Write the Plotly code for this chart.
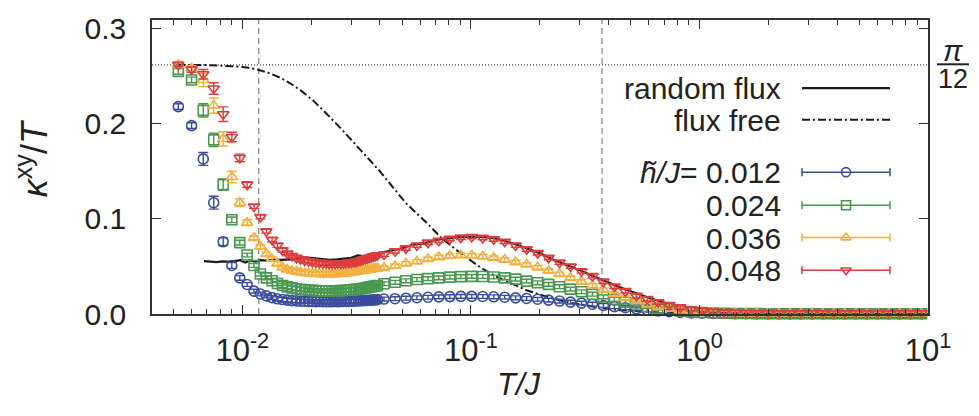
import math
import plotly.graph_objects as go

# ---------------- data ----------------
T = [0.00525, 0.006, 0.00675, 0.0075, 0.00825, 0.009, 0.00975, 0.0105, 0.01125, 0.012,
     0.01275, 0.0135, 0.01425, 0.015, 0.01575, 0.0165, 0.01725, 0.018, 0.01875, 0.0195,
     0.02025, 0.021, 0.02175, 0.0225, 0.02325, 0.024, 0.02475, 0.0255, 0.02625, 0.027,
     0.02775, 0.0285, 0.02925, 0.03, 0.03075, 0.0315, 0.03225, 0.033, 0.03375, 0.0345,
     0.03525, 0.036, 0.03675, 0.0375, 0.03825, 0.039,
     0.0417, 0.0466, 0.0520, 0.0581, 0.0649, 0.0724, 0.0809, 0.0904, 0.1009, 0.1127,
     0.1259, 0.1406, 0.1570, 0.1754, 0.1959, 0.2188, 0.2443, 0.2729, 0.3048, 0.3404,
     0.3802, 0.4246, 0.4742, 0.5297, 0.5916, 0.6607, 0.7379, 0.8241, 0.9204, 1.028,
     1.148, 1.282, 1.432, 1.600, 1.786, 1.995, 2.228, 2.489, 2.780, 3.105,
     3.467, 3.873, 4.325, 4.831, 5.395, 6.026, 6.730, 7.516, 8.395, 9.376]

kxy_h012 = [0.218, 0.198, 0.163, 0.117, 0.076, 0.051, 0.038, 0.031, 0.024, 0.021,
            0.019, 0.0172, 0.016, 0.0152, 0.0146, 0.0141, 0.0138, 0.0135, 0.0134, 0.0132,
            0.0131, 0.0130, 0.0131, 0.0129, 0.0130, 0.0129, 0.0130, 0.0131, 0.0130, 0.0131,
            0.0132, 0.0133, 0.0133, 0.0134, 0.0135, 0.0137, 0.0138, 0.0139, 0.0141, 0.0142,
            0.0143, 0.0145, 0.0146, 0.0148, 0.0149, 0.0151,
            0.0157, 0.0161, 0.0166, 0.0171, 0.0176, 0.0180, 0.0183, 0.0185, 0.0185, 0.0184,
            0.0181, 0.0176, 0.0170, 0.0163, 0.0155, 0.0146, 0.0136, 0.0125, 0.0114, 0.0103,
            0.0090, 0.0077, 0.0066, 0.0054, 0.0042, 0.0032, 0.0024, 0.0017, 0.0012, 0.0009,
            0.0007, 0.0005, 0.0004, 0.0003, 0.0003, 0.0002, 0.0002, 0.0002, 0.0002, 0.0002,
            0.0002, 0.0002, 0.0002, 0.0002, 0.0002, 0.0002, 0.0002, 0.0002, 0.0002, 0.0002]

kxy_h024 = [0.255, 0.246, 0.214, 0.183, 0.136, 0.099, 0.075, 0.062, 0.051, 0.042,
            0.038, 0.035, 0.032, 0.030, 0.0285, 0.0275, 0.0266, 0.026, 0.0255, 0.0251,
            0.0248, 0.0246, 0.0245, 0.0244, 0.0244, 0.0243, 0.0244, 0.0245, 0.0244, 0.0246,
            0.0247, 0.0249, 0.0251, 0.0253, 0.0256, 0.0259, 0.0262, 0.0266, 0.0270, 0.0274,
            0.0278, 0.0282, 0.0287, 0.0291, 0.0295, 0.0300,
            0.0318, 0.0333, 0.0349, 0.0362, 0.0372, 0.0380, 0.0388, 0.0393, 0.0395, 0.0394,
            0.0389, 0.0380, 0.0367, 0.0346, 0.0328, 0.0311, 0.0287, 0.0261, 0.0234, 0.0208,
            0.0180, 0.0155, 0.0124, 0.0105, 0.0079, 0.0061, 0.0045, 0.0032, 0.0022, 0.0015,
            0.0011, 0.0008, 0.0006, 0.0005, 0.0004, 0.0003, 0.0003, 0.0003, 0.0003, 0.0003,
            0.0003, 0.0003, 0.0003, 0.0003, 0.0003, 0.0003, 0.0003, 0.0003, 0.0003, 0.0003]

kxy_h036 = [0.262, 0.258, 0.246, 0.219, 0.184, 0.144, 0.117, 0.096, 0.080, 0.071,
            0.063, 0.058, 0.053, 0.049, 0.0468, 0.0455, 0.0445, 0.0437, 0.0431, 0.0427,
            0.0424, 0.0421, 0.0420, 0.0418, 0.0419, 0.0417, 0.0420, 0.0419, 0.0421, 0.0423,
            0.0425, 0.0428, 0.0432, 0.0436, 0.0440, 0.0444, 0.0448, 0.0452, 0.0456, 0.0460,
            0.0463, 0.0467, 0.0470, 0.0473, 0.0477, 0.0480,
            0.0485, 0.0505, 0.0530, 0.0552, 0.0578, 0.0598, 0.0610, 0.0618, 0.0615, 0.0605,
            0.0590, 0.0570, 0.0545, 0.0520, 0.0490, 0.0455, 0.0420, 0.0380, 0.0340, 0.0300,
            0.0255, 0.0210, 0.0170, 0.0135, 0.0100, 0.0075, 0.0055, 0.0040, 0.0028, 0.0020,
            0.0015, 0.0011, 0.0009, 0.0007, 0.0006, 0.0005, 0.0005, 0.0005, 0.0005, 0.0005,
            0.0005, 0.0005, 0.0005, 0.0005, 0.0005, 0.0005, 0.0005, 0.0005, 0.0005, 0.0005]

kxy_h048 = [0.262, 0.257, 0.252, 0.237, 0.210, 0.186, 0.164, 0.136, 0.113, 0.102,
            0.087, 0.078, 0.072, 0.067, 0.0635, 0.061, 0.059, 0.0575, 0.0562, 0.0555,
            0.0548, 0.0542, 0.0538, 0.0533, 0.0535, 0.0530, 0.0532, 0.0529, 0.0533, 0.0531,
            0.0533, 0.0536, 0.0540, 0.0543, 0.0546, 0.0550, 0.0557, 0.0564, 0.0571, 0.0578,
            0.0585, 0.0592, 0.0599, 0.0606, 0.0612, 0.0618,
            0.0625, 0.0660, 0.0690, 0.0720, 0.0750, 0.0770, 0.0790, 0.0803, 0.0810, 0.0800,
            0.0785, 0.0760, 0.0720, 0.0680, 0.0640, 0.0590, 0.0540, 0.0500, 0.0450, 0.0400,
            0.0340, 0.0288, 0.0240, 0.0190, 0.0158, 0.0123, 0.0095, 0.0070, 0.0050, 0.0036,
            0.0027, 0.0020, 0.0016, 0.0013, 0.0011, 0.0010, 0.0010, 0.0010, 0.0010, 0.0010,
            0.0010, 0.0010, 0.0010, 0.0010, 0.0010, 0.0010, 0.0010, 0.0010, 0.0010, 0.0010]

err_h012 = [0.003, 0.003, 0.0068, 0.0068, 0.004, 0.003, 0.0025, 0.002, 0.002, 0.002,
            0.002, 0.002, 0.002, 0.002, 0.002, 0.002, 0.002, 0.002, 0.002, 0.002,
            0.002, 0.002, 0.002, 0.002, 0.002, 0.002, 0.002, 0.002, 0.002, 0.002,
            0.002, 0.002, 0.002, 0.002, 0.002, 0.002, 0.002, 0.002, 0.002, 0.002,
            0.002, 0.002, 0.002, 0.002, 0.002, 0.002,
            0.002, 0.002, 0.002, 0.002, 0.002, 0.002, 0.002, 0.002, 0.002, 0.002,
            0.002, 0.002, 0.002, 0.002, 0.002, 0.002, 0.002, 0.002, 0.002, 0.002,
            0.002, 0.002, 0.002, 0.002, 0.002, 0.002, 0.002, 0.002, 0.002, 0.002,
            0.002, 0.002, 0.002, 0.002, 0.002, 0.002, 0.002, 0.002, 0.002, 0.002,
            0.002, 0.002, 0.002, 0.002, 0.002, 0.002, 0.002, 0.002, 0.002, 0.002]

err_h024 = [0.003, 0.003, 0.007, 0.007, 0.006, 0.003, 0.0025, 0.002, 0.002, 0.002,
            0.002, 0.002, 0.002, 0.002, 0.002, 0.002, 0.002, 0.002, 0.002, 0.002,
            0.002, 0.002, 0.002, 0.002, 0.002, 0.002, 0.002, 0.002, 0.002, 0.002,
            0.002, 0.002, 0.002, 0.002, 0.002, 0.002, 0.002, 0.002, 0.002, 0.002,
            0.002, 0.002, 0.002, 0.002, 0.002, 0.002,
            0.002, 0.002, 0.002, 0.002, 0.002, 0.002, 0.002, 0.002, 0.002, 0.002,
            0.002, 0.002, 0.002, 0.002, 0.002, 0.002, 0.002, 0.002, 0.002, 0.002,
            0.002, 0.002, 0.002, 0.002, 0.002, 0.002, 0.002, 0.002, 0.002, 0.002,
            0.002, 0.002, 0.002, 0.002, 0.002, 0.002, 0.002, 0.002, 0.002, 0.002,
            0.002, 0.002, 0.002, 0.002, 0.002, 0.002, 0.002, 0.002, 0.002, 0.002]

err_h036 = [0.003, 0.003, 0.007, 0.008, 0.0075, 0.006, 0.004, 0.003, 0.002, 0.002,
            0.002, 0.002, 0.002, 0.002, 0.002, 0.002, 0.002, 0.002, 0.002, 0.002,
            0.002, 0.002, 0.002, 0.002, 0.002, 0.002, 0.002, 0.002, 0.002, 0.002,
            0.002, 0.002, 0.002, 0.002, 0.002, 0.002, 0.002, 0.002, 0.002, 0.002,
            0.002, 0.002, 0.002, 0.002, 0.002, 0.002,
            0.002, 0.002, 0.002, 0.002, 0.002, 0.002, 0.002, 0.002, 0.002, 0.002,
            0.002, 0.002, 0.002, 0.002, 0.002, 0.002, 0.002, 0.002, 0.002, 0.002,
            0.002, 0.002, 0.002, 0.002, 0.002, 0.002, 0.002, 0.002, 0.002, 0.002,
            0.002, 0.002, 0.002, 0.002, 0.002, 0.002, 0.002, 0.002, 0.002, 0.002,
            0.002, 0.002, 0.002, 0.002, 0.002, 0.002, 0.002, 0.002, 0.002, 0.002]

err_h048 = [0.002, 0.003, 0.005, 0.006, 0.0077, 0.005, 0.004, 0.003, 0.002, 0.002,
            0.002, 0.002, 0.002, 0.002, 0.002, 0.002, 0.002, 0.002, 0.002, 0.002,
            0.002, 0.002, 0.002, 0.002, 0.002, 0.002, 0.002, 0.002, 0.002, 0.002,
            0.002, 0.002, 0.002, 0.002, 0.002, 0.002, 0.002, 0.002, 0.002, 0.002,
            0.002, 0.002, 0.002, 0.002, 0.002, 0.002,
            0.002, 0.002, 0.002, 0.002, 0.002, 0.002, 0.002, 0.002, 0.002, 0.002,
            0.002, 0.002, 0.002, 0.002, 0.002, 0.002, 0.002, 0.002, 0.002, 0.002,
            0.002, 0.002, 0.002, 0.002, 0.002, 0.002, 0.002, 0.002, 0.002, 0.002,
            0.002, 0.002, 0.002, 0.002, 0.002, 0.002, 0.002, 0.002, 0.002, 0.002,
            0.002, 0.002, 0.002, 0.002, 0.002, 0.002, 0.002, 0.002, 0.002, 0.002]

T_random = [0.0068, 0.0072, 0.0077, 0.0082, 0.0088, 0.0094, 0.0098, 0.0103, 0.0108, 0.0114,
            0.0120, 0.0128, 0.0138, 0.0150, 0.0163, 0.0178, 0.0190, 0.0205, 0.0220, 0.0240,
            0.0260, 0.0280, 0.0300, 0.0320, 0.0345, 0.0370, 0.0400, 0.0450, 0.0500, 0.0560,
            0.0630, 0.0700, 0.0800, 0.0900, 0.1000, 0.1120, 0.1250, 0.1400, 0.1600, 0.1800,
            0.2000, 0.2300, 0.2600, 0.3000, 0.3500, 0.4000, 0.4500, 0.5000, 0.6000, 0.7000,
            0.8000, 0.9000, 1.0000, 1.2000, 1.5000, 2.0000, 3.0000, 10.0]
kxy_random = [0.0555, 0.0548, 0.0545, 0.0553, 0.0548, 0.0558, 0.0565, 0.0540, 0.0562, 0.0550,
              0.0566, 0.0560, 0.0572, 0.0568, 0.0575, 0.0580, 0.0595, 0.0585, 0.0578, 0.0570,
              0.0575, 0.0582, 0.0590, 0.0615, 0.0605, 0.0625, 0.0640, 0.0665, 0.0690, 0.0730,
              0.0745, 0.0780, 0.0798, 0.0810, 0.0812, 0.0810, 0.0800, 0.0770, 0.0725, 0.0680,
              0.0640, 0.0570, 0.0520, 0.0460, 0.0390, 0.0330, 0.0280, 0.0240, 0.0170, 0.0120,
              0.0080, 0.0055, 0.0040, 0.0020, 0.0010, 0.0003, 0.0, 0.0]

T_free = [0.0052, 0.007, 0.009, 0.0105, 0.0117, 0.013, 0.0146, 0.0162, 0.018, 0.0204,
          0.0235, 0.027, 0.033, 0.040, 0.046, 0.052, 0.064, 0.075, 0.090, 0.110,
          0.130, 0.150, 0.175, 0.200, 0.230, 0.270, 0.320, 0.380, 0.450, 0.550,
          0.700, 1.0, 1.5, 3.0, 10.0]
kxy_free = [0.2618, 0.2616, 0.2605, 0.2590, 0.2567, 0.2535, 0.2485, 0.2425, 0.2350, 0.2245,
            0.2100, 0.1950, 0.1720, 0.1500, 0.1320, 0.1165, 0.0960, 0.0790, 0.0640, 0.0490,
            0.0390, 0.0320, 0.0250, 0.0205, 0.0160, 0.0120, 0.0088, 0.0060, 0.0040, 0.0025,
            0.0012, 0.0004, 0.0001, 0.0, 0.0]

h_labels = ["0.012", "0.024", "0.036", "0.048"]
T_marks = [0.0118, 0.375]
PI12 = math.pi / 12
Y_TOP = 0.309
X_TICKS = [0.01, 0.1, 1, 10]
X_TICKTEXT = ["10<sup>-2</sup>", "10<sup>-1</sup>", "10<sup>0</sup>", "10<sup>1</sup>"]
X_MINOR = [0.005, 0.006, 0.007, 0.008, 0.009,
           0.02, 0.03, 0.04, 0.05, 0.06, 0.07, 0.08, 0.09,
           0.2, 0.3, 0.4, 0.5, 0.6, 0.7, 0.8, 0.9,
           2, 3, 4, 5, 6, 7, 8, 9]

# ---------------- style ----------------
FONT = "Liberation Sans, Arial, Helvetica, sans-serif"
TXT = "#222222"
AX = "#333333"
colors = ["#3a4c9e", "#48984f", "#f2b040", "#dd3c3c"]
symbols = ["circle-open", "square-open", "triangle-up-open", "triangle-down-open"]
series = [kxy_h012, kxy_h024, kxy_h036, kxy_h048]
errors = [err_h012, err_h024, err_h036, err_h048]

W, H = 979, 416
L, R, TOP, BOT = 152, 51, 12, 102
PW = W - L - R
PH = H - TOP - BOT


def px(xpix):
    return (xpix - L) / PW


def py(ypix):
    return (H - BOT - ypix) / PH


fig = go.Figure()

# vertical dashed markers
for tm in T_marks:
    fig.add_trace(go.Scatter(x=[tm, tm], y=[0, Y_TOP], mode="lines",
                             line=dict(color="#8a8a8a", width=1.3, dash="6px,4px"),
                             showlegend=False, hoverinfo="skip"))

# theory curves
fig.add_trace(go.Scatter(x=T_random, y=kxy_random, mode="lines",
                         line=dict(color="#1a1a1a", width=2.2),
                         showlegend=False))
fig.add_trace(go.Scatter(x=T_free, y=kxy_free, mode="lines",
                         line=dict(color="#1a1a1a", width=2.0, dash="8px,3px,2px,3px"),
                         showlegend=False))

# data series
for ys, es, c, s in zip(series, errors, colors, symbols):
    fig.add_trace(go.Scatter(
        x=T, y=ys, mode="markers",
        marker=dict(symbol=s, size=10, color=c, line=dict(width=1.6, color=c)),
        error_y=dict(type="data", array=es, visible=True, color=c, thickness=1.4, width=5),
        cliponaxis=False, showlegend=False))

# ---------------- manual key (right-aligned text, sample on right) ----------------
key_text_x = px(783)
sample_x0, sample_x1 = px(802), px(890)
sample_mid = (sample_x0 + sample_x1) / 2
half = (sample_x1 - sample_x0) / 2

ann = []
keyfont = dict(family=FONT, size=30, color=TXT)
rows_line = [("random flux", 82, None), ("flux free", 114.5, "8px,3px,2px,3px")]
for txt, yy, dash in rows_line:
    ann.append(dict(x=key_text_x, y=py(yy), xref="paper", yref="paper", text=txt,
                    showarrow=False, xanchor="right", yanchor="middle", font=keyfont,
                    height=30, valign="middle"))
    fig.add_trace(go.Scatter(x=[sample_x0, sample_x1], y=[py(yy), py(yy)], mode="lines",
                             xaxis="x2", yaxis="y2",
                             line=dict(color="#1a1a1a", width=2.2 if dash is None else 2.0,
                                       dash=dash if dash else "solid"),
                             showlegend=False, hoverinfo="skip"))

rows_y = [168.3, 202.3, 235.5, 269]
for i, (lab, yy, c, s) in enumerate(zip(h_labels, rows_y, colors, symbols)):
    txt = ("<i>h\u0303/J</i>= " + lab) if i == 0 else lab
    ann.append(dict(x=key_text_x, y=py(yy), xref="paper", yref="paper", text=txt,
                    showarrow=False, xanchor="right", yanchor="middle", font=keyfont,
                    height=30, valign="middle"))
    fig.add_trace(go.Scatter(x=[sample_mid], y=[py(yy)], mode="markers",
                             xaxis="x2", yaxis="y2",
                             marker=dict(symbol=s, size=9, color=c, line=dict(width=1.6, color=c)),
                             error_x=dict(type="constant", value=half, visible=True, color=c,
                                          thickness=1.5, width=4),
                             showlegend=False, hoverinfo="skip", cliponaxis=False))

# axis titles
ann.append(dict(x=px(519), y=py(386), xref="paper", yref="paper",
                text="<i>T/J</i>", showarrow=False, xanchor="center", yanchor="middle",
                font=dict(family=FONT, size=31, color=TXT)))
ann.append(dict(x=px(32), y=py(154), xref="paper", yref="paper",
                text="<i>κ</i><sup>xy</sup>/<i>T</i>", showarrow=False, textangle=-90,
                xanchor="center", yanchor="middle",
                font=dict(family=FONT, size=36, color=TXT)))
# pi/12 label
ann.append(dict(x=px(953), y=py(44), xref="paper", yref="paper", text="<i>π</i>",
                showarrow=False, xanchor="center", yanchor="middle", height=24,
                font=dict(family=FONT, size=29, color=TXT)))
ann.append(dict(x=px(953), y=py(73), xref="paper", yref="paper", text="12",
                showarrow=False, xanchor="center", yanchor="middle", height=24,
                font=dict(family=FONT, size=27, color=TXT)))

shapes = [
    dict(type="line", xref="paper", yref="y", x0=0, x1=1, y0=PI12, y1=PI12,
         line=dict(color="#444444", width=1.2, dash="1px,2px"), layer="below"),
    dict(type="line", xref="paper", yref="paper", x0=px(937), x1=px(969),
         y0=py(57.5), y1=py(57.5), line=dict(color=TXT, width=2)),
]

axis_common = dict(showline=True, linecolor=AX, linewidth=1.6, mirror="ticks",
                   ticks="inside", ticklen=9, tickwidth=1.4, tickcolor=AX,
                   showgrid=False, zeroline=False)

fig.update_layout(
    width=W, height=H,
    margin=dict(l=L, r=R, t=TOP, b=BOT, pad=0),
    paper_bgcolor="white", plot_bgcolor="white",
    font=dict(family=FONT, color=TXT),
    showlegend=False,
    xaxis=dict(type="log", range=[-2.395, 1.0], tickmode="array",
               tickvals=X_TICKS, ticktext=X_TICKTEXT, ticklabelstandoff=8,
               tickfont=dict(family=FONT, size=31, color=TXT),
               minor=dict(tickmode="array", tickvals=X_MINOR, ticks="inside",
                          ticklen=5, tickwidth=1.2, tickcolor=AX, showgrid=False),
               **axis_common),
    yaxis=dict(range=[0, Y_TOP], tickmode="linear", tick0=0, dtick=0.1,
               tickformat=".1f", ticklabelstandoff=18,
               tickfont=dict(family=FONT, size=30, color=TXT), **axis_common),
    xaxis2=dict(overlaying="x", range=[0, 1], visible=False, fixedrange=True),
    yaxis2=dict(overlaying="y", range=[0, 1], visible=False, fixedrange=True),
    annotations=ann,
    shapes=shapes,
)

fig.write_html("out.html", config={"displayModeBar": False},
               post_script="document.body.style.margin='0';document.body.style.padding='0';")
